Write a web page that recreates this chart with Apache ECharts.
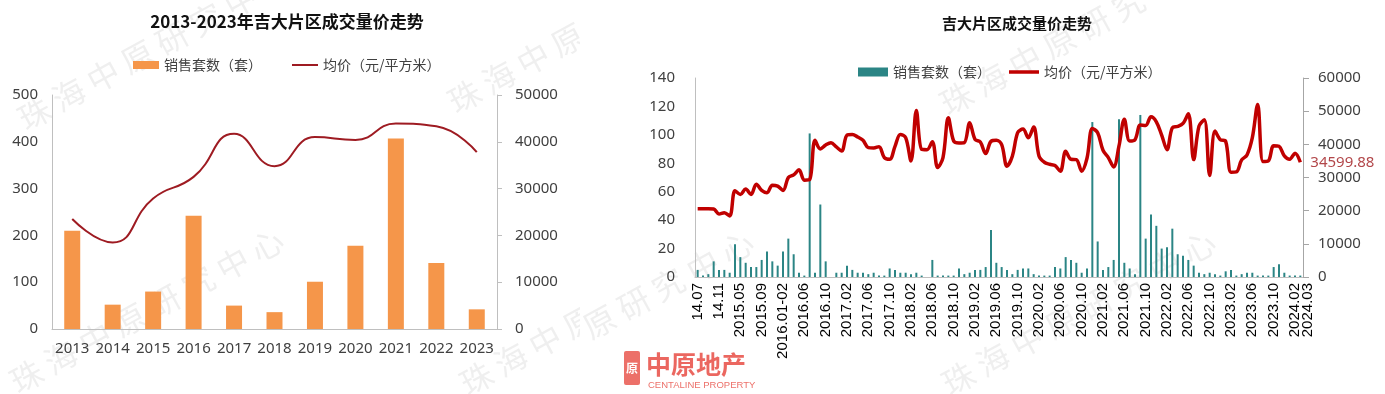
<!DOCTYPE html>
<html>
<head>
<meta charset="utf-8">
<script src="https://cdn.jsdelivr.net/npm/echarts@6/dist/echarts.min.js"></script>
<style>
html,body{margin:0;padding:0;background:#fff;}
#wrap{position:relative;width:1385px;height:394px;overflow:hidden;background:#fff;}
#left{position:absolute;left:0;top:0;width:580px;height:394px;}
#right{position:absolute;left:580px;top:0;width:805px;height:394px;}
</style>
</head>
<body>
<div id="wrap"><div id="left"></div><div id="right"></div></div>
<script>
// ---------- data: left chart ----------
const leftYears = ['2013','2014','2015','2016','2017','2018','2019','2020','2021','2022','2023'];
const leftSales = [210, 52, 80, 242, 50, 36, 101, 178, 407, 141, 42];
const leftPrice = [23500, 18500, 27900, 32500, 41700, 34800, 41000, 40400, 43900, 43300, 37800];

// ---------- data: right chart ----------
const months = [
'14.07','14.08','14.09','14.10','14.11','14.12','2015.01-02','2015.03-04',
'2015.05','2015.06','2015.07','2015.08','2015.09','2015.10','2015.11','2015.12',
'2016.01-02','2016.03','2016.04','2016.05','2016.06','2016.07','2016.08','2016.09','2016.10','2016.11','2016.12',
'2017.01','2017.02','2017.03','2017.04','2017.05','2017.06','2017.07','2017.08','2017.09','2017.10','2017.11','2017.12',
'2018.01','2018.02','2018.03','2018.04','2018.05','2018.06','2018.07','2018.08','2018.09','2018.10','2018.11','2018.12',
'2019.01','2019.02','2019.03','2019.04','2019.05','2019.06','2019.07','2019.08','2019.09','2019.10','2019.11','2019.12',
'2020.01','2020.02','2020.03','2020.04','2020.05','2020.06','2020.07','2020.08','2020.09','2020.10','2020.11','2020.12',
'2021.01','2021.02','2021.03','2021.04','2021.05','2021.06','2021.07','2021.08','2021.09','2021.10','2021.11','2021.12',
'2022.01','2022.02','2022.03','2022.04','2022.05','2022.06','2022.07','2022.08','2022.09','2022.10','2022.11','2022.12',
'2023.01','2023.02','2023.03','2023.04','2023.05','2023.06','2023.07','2023.08','2023.09','2023.10','2023.11','2023.12',
'2024.01','2024.02','2024.03'
];
const monthSales = [
5,1,2,11,5,5,3,23,14,10,
7,7,12,18,11,8,18,27,16,3,
1,101,3,51,11,0,3,3,8,5,
3,3,2,3,1,1,6,5,3,3,
2,3,1,0,12,1,1,1,1,6,
2,3,5,5,7,33,10,7,5,2,
5,6,6,2,1,1,1,7,6,14,
12,10,3,6,109,25,5,7,12,111,
10,6,2,114,27,44,36,20,21,34,
16,15,12,8,3,2,3,2,1,4,
5,1,2,3,3,1,1,1,7,9,
3,1,1,1
];
const monthPrice = [
20600,20600,20600,20500,19000,19400,18400,26000,24900,26500,
24900,28000,26100,25400,27700,27400,26100,30000,30800,32300,
29200,29400,41200,38600,39800,40500,39200,38000,42800,43000,
42200,41200,39000,38900,39300,36000,35500,39400,43000,42000,
35000,50200,38500,38400,40800,33000,36000,48000,41000,40400,
40500,46500,41500,40700,37200,40900,41200,39900,33400,36400,
43500,44600,42000,45200,36500,34600,34000,33600,31900,37900,
35500,35400,31900,35800,44800,43500,38200,36000,33200,39500,
47600,41000,41400,45800,45700,48300,46800,42800,38400,45000,
45400,46300,49200,35400,45500,47400,30600,44000,41400,40900,
31600,31700,35300,36800,42000,52000,34800,35000,39600,39400,
36500,35500,37300,34599.88
];

const SALES = '销售套数（套）';
const PRICE = '均价（元/平方米）';
const FONT = "'Noto Sans','Noto Sans CJK SC',sans-serif";
const CJK = "'Noto Sans CJK SC','Noto Sans',sans-serif";
const ARIAL = "'Liberation Sans',Arial,sans-serif";
const AXIS_GRAY = '#bfbfbf';
const WM = '珠 海 中 原 研 究 中 心';
const plain = function(v){ return String(v); };

function wm(x, y) {
  return {type:'text', x:x, y:y, rotation:0.5, silent:true, z:-1,
    style:{text:WM, fill:'rgba(120,120,120,0.12)', font:"32px 'Noto Sans CJK SC'", textVerticalAlign:'bottom'}};
}
// line-shaped legend icon: thin bar centred in the icon box (corner points keep the box size)
function lineIcon(w, h, t) {
  const a = (h - t) / 2, b = (h + t) / 2;
  return 'path://M0,0 L0.01,0 M0,' + a + ' L' + w + ',' + a + ' L' + w + ',' + b + ' L0,' + b + ' Z M' + w + ',' + h + ' L' + (w - 0.01) + ',' + h;
}

// ---------- left chart ----------
const leftChart = echarts.init(document.getElementById('left'), null, {renderer:'canvas'});
leftChart.setOption({
  animation:false,
  title:{text:'2013-2023年吉大片区成交量价走势', left:282, top:8, textAlign:'center',
    textStyle:{fontSize:17, fontWeight:'bold', color:'#111', fontFamily:CJK}},
  legend:{left:128, top:53, itemWidth:26, itemHeight:8, itemGap:30,
    textStyle:{fontSize:14, color:'#404040', fontFamily:CJK},
    data:[{name:SALES, icon:'rect'}, {name:PRICE, icon:lineIcon(26, 8, 2)}]},
  grid:{left:52, right:83, top:95, bottom:65},
  xAxis:{type:'category', data:leftYears,
    axisLine:{lineStyle:{color:AXIS_GRAY}}, axisTick:{show:false},
    axisLabel:{interval:0, fontSize:15, color:'#404040', margin:12, fontFamily:FONT}},
  yAxis:[
    {type:'value', min:0, max:500, interval:100,
      axisLine:{show:true, lineStyle:{color:AXIS_GRAY}}, axisTick:{show:false}, splitLine:{show:false},
      axisLabel:{fontSize:15, color:'#404040', margin:14, fontFamily:FONT, formatter:plain}},
    {type:'value', min:0, max:50000, interval:10000, position:'right',
      axisLine:{show:true, lineStyle:{color:AXIS_GRAY}}, axisTick:{show:true, length:5, lineStyle:{color:AXIS_GRAY}},
      splitLine:{show:false},
      axisLabel:{fontSize:15, color:'#404040', margin:18, fontFamily:FONT, formatter:plain}}
  ],
  graphic:[wm(28,135), wm(458,118), wm(20,398), wm(470,400)],
  series:[
    {name:SALES, type:'bar', data:leftSales, barWidth:16, itemStyle:{color:'#F5964A'}},
    {name:PRICE, type:'line', yAxisIndex:1, data:leftPrice, smooth:true, symbol:'none',
      lineStyle:{color:'#9E1B22', width:2}, itemStyle:{color:'#9E1B22'}}
  ]
});

// ---------- right chart ----------
const lastIdx = months.length - 1;
const rightChart = echarts.init(document.getElementById('right'), null, {renderer:'canvas'});
rightChart.setOption({
  animation:false,
  title:{text:'吉大片区成交量价走势', left:432, top:11, textAlign:'center',
    textStyle:{fontSize:15, fontWeight:'bold', color:'#111', fontFamily:CJK}},
  legend:{left:273, top:60, itemWidth:30, itemHeight:9, itemGap:18,
    textStyle:{fontSize:14, color:'#404040', fontFamily:CJK},
    data:[{name:SALES, icon:'rect'}, {name:PRICE, icon:lineIcon(30, 9, 3.5)}]},
  grid:{left:115, right:82, top:78, bottom:117},
  xAxis:[
    {type:'category', data:months,
      axisLine:{lineStyle:{color:AXIS_GRAY}}, axisTick:{show:false},
      axisLabel:{rotate:90, fontSize:15, color:'#000', margin:6, fontFamily:ARIAL,
        hideOverlap:false, showMinLabel:true, showMaxLabel:true,
        interval:function(i){ return i % 4 === 0; }}},
    // same categories, only carries the final month's label (nudged right as in the original)
    {type:'category', data:months, position:'bottom',
      axisLine:{show:false}, axisTick:{show:false}, splitLine:{show:false},
      axisLabel:{rotate:90, fontSize:15, color:'#000', margin:6, fontFamily:ARIAL,
        verticalAlign:'top', showMaxLabel:true,
        interval:function(i){ return i === lastIdx; }}}
  ],
  yAxis:[
    {type:'value', min:0, max:140, interval:20,
      axisLine:{show:true, lineStyle:{color:AXIS_GRAY}}, axisTick:{show:false}, splitLine:{show:false},
      axisLabel:{fontSize:15, color:'#404040', margin:20, fontFamily:FONT, formatter:plain}},
    {type:'value', min:0, max:60000, interval:10000, position:'right',
      axisLine:{show:true, lineStyle:{color:'#a6a6a6'}}, axisTick:{show:true, length:6, lineStyle:{color:'#a6a6a6'}},
      splitLine:{show:false},
      axisLabel:{fontSize:15, color:'#404040', margin:15, fontFamily:FONT, formatter:plain}}
  ],
  graphic:[
    wm(370,120), wm(-90,400), wm(372,400),
    {type:'rect', shape:{x:44, y:351, width:16, height:34, r:2}, style:{fill:'#e9574f', opacity:0.85}, silent:true},
    {type:'text', x:52, y:368, style:{text:'原', fill:'#fff', font:"bold 12px 'Noto Sans CJK SC'", textAlign:'center', textVerticalAlign:'middle'}, silent:true},
    {type:'text', x:66, y:352, style:{text:'中原地产', fill:'#e9574f', opacity:0.9, font:"bold 25px 'Noto Sans CJK SC'"}, silent:true},
    {type:'text', x:68, y:380, style:{text:'CENTALINE PROPERTY', fill:'#e9574f', opacity:0.85, font:"9.5px 'Liberation Sans'"}, silent:true}
  ],
  series:[
    {name:SALES, type:'bar', data:monthSales, barWidth:2, itemStyle:{color:'#2B8585'}},
    {name:PRICE, type:'line', yAxisIndex:1, data:monthPrice, smooth:0.35, symbol:'none',
      lineStyle:{color:'#C00000', width:3.5}, itemStyle:{color:'#C00000'},
      endLabel:{show:true, formatter:function(p){ return p.value; }, color:'#b2474a', fontSize:15, fontFamily:FONT, distance:10}}
  ]
});
</script>
</body>
</html>
